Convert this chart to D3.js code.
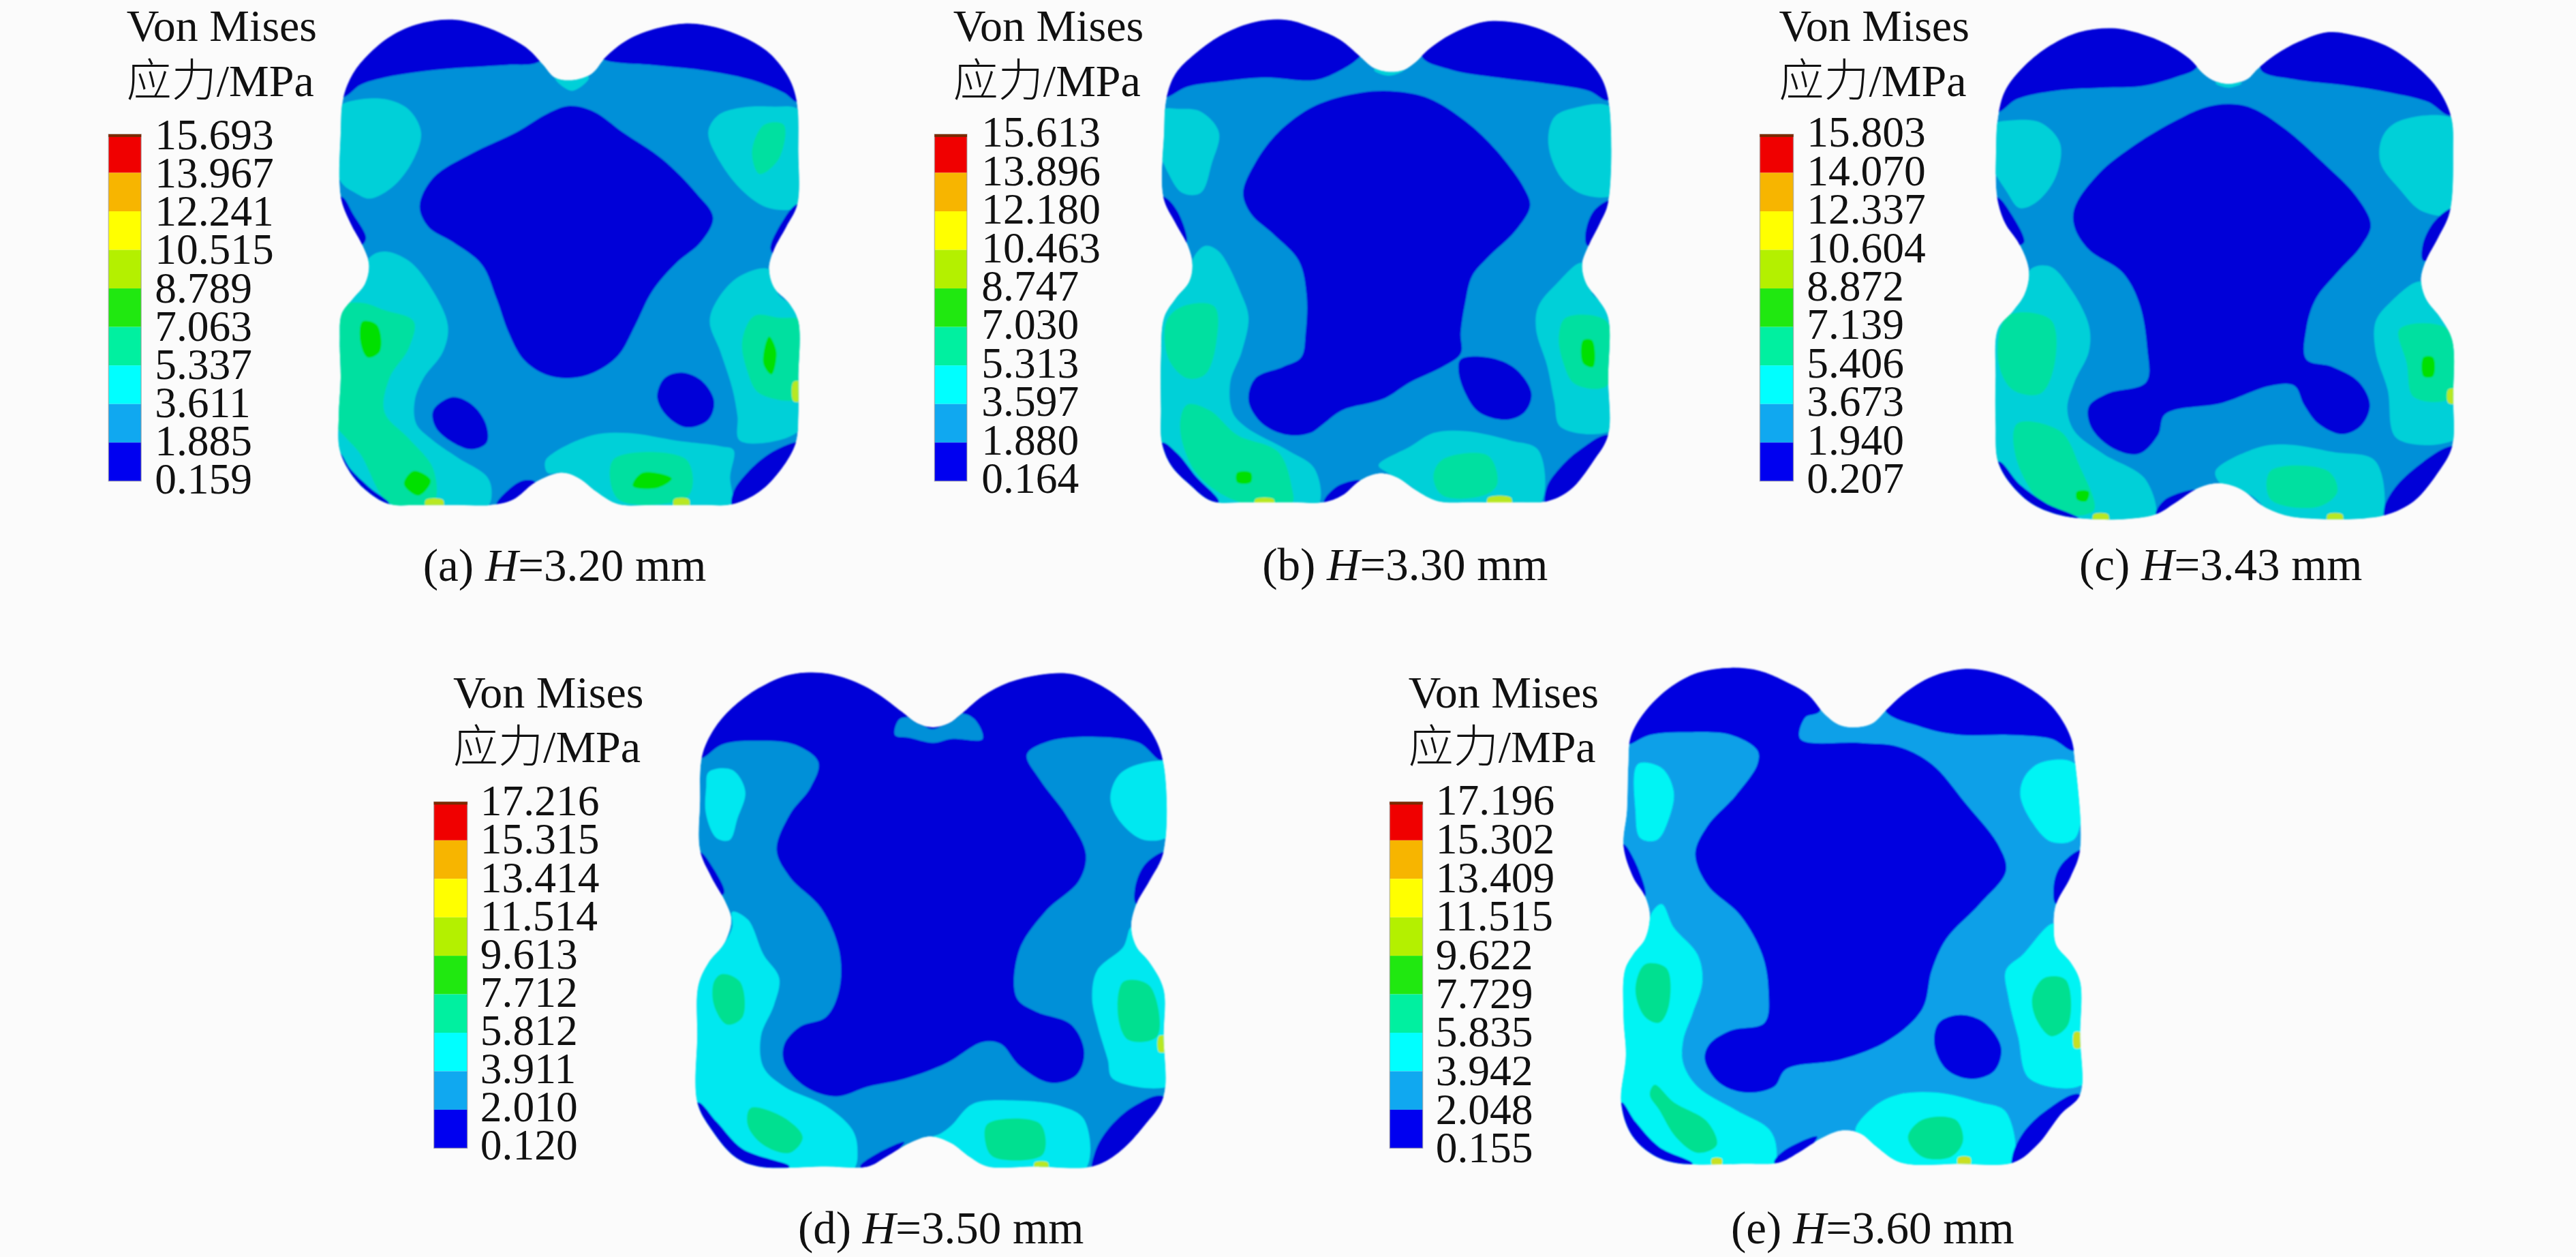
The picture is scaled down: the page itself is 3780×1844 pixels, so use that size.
<!DOCTYPE html>
<html><head><meta charset="utf-8">
<script src="https://cdn.jsdelivr.net/npm/d3@7"></script>
<style>html,body{margin:0;padding:0;background:#fbfbfb;overflow:hidden}svg{display:block}</style>
</head><body>
<script>
// ---- legend values ----
const legendA=["15.693","13.967","12.241","10.515","8.789","7.063","5.337","3.611","1.885","0.159"];
const legendB=["15.613","13.896","12.180","10.463","8.747","7.030","5.313","3.597","1.880","0.164"];
const legendC=["15.803","14.070","12.337","10.604","8.872","7.139","5.406","3.673","1.940","0.207"];
const legendD=["17.216","15.315","13.414","11.514","9.613","7.712","5.812","3.911","2.010","0.120"];
const legendE=["17.196","15.302","13.409","11.515","9.622","7.729","5.835","3.942","2.048","0.155"];
const legendTitle=["Von Mises","应力","/MPa"];
const captions=[["(a) ","=3.20 mm"],["(b) ","=3.30 mm"],["(c) ","=3.43 mm"],["(d) ","=3.50 mm"],["(e) ","=3.60 mm"]];
const bandColors=["#f00000","#f7b500","#ffff00","#b4f000","#20e810","#00f0a0","#00ffff","#10a8f0","#0000f0"];

// ---- contour outlines (model coordinates of each panel, flat x,y lists) ----
const outlineA=[1035,212,1000,205,975,170,945,130,900,95,850,68,790,52,730,60,670,90,620,140,585,195,565,260,560,350,560,520,580,590,605,650,618,700,610,750,585,790,562,830,558,900,560,1000,556,1100,558,1190,585,1260,620,1305,660,1333,720,1335,800,1335,870,1335,915,1320,960,1275,1015,1250,1050,1265,1085,1300,1130,1333,1200,1335,1300,1335,1365,1333,1420,1300,1465,1240,1495,1170,1500,1100,1500,1000,1500,850,1480,800,1450,760,1440,710,1450,660,1475,600,1498,540,1500,400,1497,270,1480,205,1440,140,1390,100,1330,72,1270,62,1210,75,1150,105,1105,150,1075,195];
const blueA=[
[570,255,600,225,650,205,720,190,800,180,900,172,965,165,1000,120,900,20,700,10,520,150,530,270],
[1105,160,1200,172,1300,185,1400,210,1470,245,1500,270,1530,200,1450,60,1270,20,1120,80,1080,140],
[1030,280,1080,295,1140,350,1220,420,1290,510,1325,575,1300,640,1250,695,1200,770,1165,860,1130,940,1080,985,1030,1000,980,990,935,950,905,880,880,790,850,700,790,640,740,600,722,545,750,470,830,405,920,350,985,300],
[790,1050,830,1070,858,1120,860,1170,830,1188,790,1170,755,1130,750,1085],
[1260,985,1300,1005,1327,1060,1315,1110,1270,1130,1230,1100,1210,1050,1225,1000],
[562,520,585,565,612,630,600,650,540,600,540,530],
[1497,540,1470,580,1443,660,1460,680,1520,620,1520,540],
[1497,1168,1440,1200,1395,1250,1367,1300,1365,1340,1450,1350,1530,1250,1520,1170],
[556,1195,580,1240,620,1290,660,1333,620,1345,540,1280,540,1200],
[880,1335,900,1300,935,1270,960,1275,930,1340]];
const cyanA=[
[590,265,650,262,700,290,725,350,710,420,670,490,620,525,590,510,560,480,540,350,560,280],
[1380,285,1450,282,1500,290,1520,400,1500,545,1440,550,1390,510,1340,430,1315,350,1335,305],
[650,665,700,690,745,760,780,860,770,930,730,1000,712,1060,715,1120,745,1160,800,1210,860,1260,870,1300,860,1340,640,1345,540,1240,540,800,600,740,620,680],
[1440,712,1380,730,1335,790,1318,850,1340,930,1365,1030,1375,1100,1380,1165,1500,1140,1520,1000,1510,830,1460,780],
[1000,1195,1080,1150,1150,1145,1250,1165,1340,1180,1367,1190,1360,1260,1360,1345,1130,1345,1085,1300,1050,1265,1015,1250,985,1250,980,1220],
[1000,205,1035,240,1070,205,1035,190]];
const tealA=[
[600,800,650,820,710,850,700,920,660,1000,650,1090,700,1160,750,1240,750,1330,660,1330,600,1200,540,1100,540,820],
[1410,835,1460,840,1510,850,1510,1050,1420,1040,1395,980,1385,900],
[1120,1215,1270,1215,1275,1310,1130,1320],
[1430,330,1470,330,1460,420,1420,460,1405,400]];
const greenA=[[605,850,635,860,640,930,615,945,600,900],[1440,890,1455,930,1445,990,1428,960],[710,1245,745,1270,720,1310,690,1280],[1180,1250,1240,1265,1210,1290,1160,1285]];
const hotA=[[735,1322,770,1322,770,1340,735,1340],[1245,1320,1275,1320,1275,1340,1245,1340],[1490,1010,1505,1010,1505,1060,1490,1060]];

const outlineB=[1012,190,980,180,950,150,905,105,850,75,790,53,720,58,650,90,590,140,545,195,525,260,520,350,518,520,545,590,572,650,582,700,575,745,545,790,520,840,513,950,513,1080,515,1170,535,1230,575,1280,625,1325,700,1328,800,1328,870,1328,910,1310,950,1270,990,1252,1030,1262,1070,1295,1120,1325,1200,1328,1300,1328,1360,1325,1410,1295,1460,1220,1493,1150,1493,1000,1493,840,1470,790,1445,750,1436,700,1450,650,1475,590,1493,535,1493,260,1470,190,1420,130,1360,85,1290,60,1220,58,1150,90,1100,130,1070,165,1045,185];
const blueB=[
[525,258,570,230,650,215,740,205,850,212,900,190,945,155,980,100,800,10,550,100,490,260],
[1085,150,1150,185,1250,205,1350,220,1450,240,1495,265,1530,150,1300,20,1100,80],
[1030,242,1100,260,1180,320,1250,400,1310,500,1322,545,1290,610,1230,680,1195,730,1180,800,1170,880,1170,935,1130,970,1060,1010,1000,1055,910,1085,870,1120,840,1145,790,1150,735,1120,705,1060,720,1000,780,970,820,945,830,880,832,780,815,690,760,620,710,565,693,510,720,430,770,350,850,280,950,245],
[1170,950,1230,945,1290,975,1325,1040,1310,1090,1270,1110,1210,1090,1180,1040,1165,980],
[520,520,550,560,570,640,560,650,500,600,500,520],
[1493,530,1460,560,1443,620,1448,650,1510,620,1510,530],
[1493,1150,1430,1190,1385,1240,1358,1290,1358,1340,1440,1340,1510,1200],
[515,1170,550,1200,590,1260,640,1328,600,1340,500,1250],
[870,1328,900,1285,950,1270,930,1300,900,1340]];
const cyanB=[
[550,288,600,295,640,350,625,430,600,510,560,510,530,460,500,350,520,290],
[1420,285,1500,285,1510,510,1440,515,1390,470,1362,380,1375,310],
[610,650,640,665,690,780,705,840,690,930,665,1010,670,1090,700,1130,790,1190,850,1240,855,1340,620,1340,500,1150,500,830,570,750,585,680],
[1436,695,1380,750,1340,810,1335,870,1360,970,1375,1060,1390,1130,1510,1130,1510,820,1460,780],
[990,1230,1060,1180,1110,1145,1180,1140,1280,1165,1340,1190,1340,1340,1120,1340,1060,1285,1010,1250],
[980,185,1012,200,1045,185,1012,170]];
const tealB=[
[560,810,630,810,635,900,610,990,570,1000,530,950,525,850],
[570,1070,620,1085,680,1150,770,1195,800,1290,800,1330,680,1325,590,1250,555,1130],
[1400,840,1490,850,1490,1020,1420,1015,1395,960,1385,890],
[1130,1215,1230,1205,1250,1280,1220,1310,1130,1310,1110,1260]];
const greenB=[[680,1250,710,1250,710,1275,680,1275],[1438,900,1458,900,1460,970,1438,960]];
const hotB=[[1230,1316,1280,1316,1280,1335,1230,1335],[720,1320,760,1320,760,1335,720,1335]];

const outlineC=[1012,222,985,215,960,195,930,155,880,115,830,90,770,75,700,85,640,120,585,175,545,240,530,310,526,400,528,520,545,590,572,640,590,690,595,730,585,780,560,825,530,870,525,1000,525,1120,530,1220,560,1285,605,1335,660,1362,720,1372,800,1372,860,1360,900,1330,950,1290,995,1278,1040,1295,1080,1335,1130,1362,1200,1372,1300,1370,1345,1360,1400,1325,1450,1250,1480,1180,1482,1050,1480,900,1455,840,1425,790,1415,740,1425,690,1450,630,1475,560,1482,400,1478,310,1450,235,1400,170,1340,120,1280,95,1220,85,1160,110,1110,145,1075,180,1050,210];
const blueC=[
[530,298,570,262,650,240,750,232,830,228,900,205,945,180,960,120,760,30,520,150,490,300],
[1080,185,1150,210,1250,225,1350,245,1430,270,1478,305,1520,200,1220,40,1090,120],
[1010,275,1060,285,1130,340,1210,430,1280,520,1310,595,1290,650,1240,720,1195,790,1175,870,1175,950,1230,970,1285,1010,1308,1070,1290,1125,1250,1148,1200,1120,1170,1070,1150,1020,1100,1020,1000,1065,880,1095,865,1150,825,1200,770,1185,725,1130,720,1075,760,1040,840,1010,842,920,825,800,790,720,720,660,690,600,690,550,740,460,820,380,900,320,960,285],
[528,520,555,560,585,640,570,650,505,600,505,520],
[1478,550,1440,590,1418,650,1420,690,1500,620,1500,550],
[1470,1182,1410,1230,1360,1290,1338,1345,1345,1385,1500,1300,1500,1180],
[530,1220,575,1280,630,1330,700,1372,620,1385,500,1300],
[860,1360,880,1320,945,1295,920,1330,880,1370]];
const cyanC=[
[560,318,620,325,660,380,650,470,610,535,575,550,550,510,505,400,520,330],
[1370,320,1490,320,1500,560,1420,560,1370,500,1330,430,1335,360],
[640,705,680,760,720,860,720,930,690,1010,675,1080,690,1140,750,1200,840,1270,855,1385,620,1385,500,1200,500,860,580,780,600,710],
[1415,745,1350,800,1320,850,1320,930,1345,1030,1365,1160,1500,1150,1500,880,1450,830],
[985,1245,1070,1185,1130,1175,1230,1195,1320,1220,1325,1385,1130,1385,1060,1310,995,1278],
[985,220,1012,232,1040,220,1012,210]];
const tealC=[
[550,835,640,845,650,950,620,1040,560,1030,530,950],
[570,1120,660,1140,700,1230,730,1350,640,1350,570,1220],
[1370,870,1470,870,1480,1050,1400,1050,1385,960],
[1100,1245,1220,1245,1240,1300,1200,1340,1100,1320]];
const greenC=[[1420,945,1440,945,1440,995,1420,995],[695,1300,720,1300,715,1325,695,1320]];
const hotC=[[1220,1360,1250,1360,1250,1380,1220,1380],[730,1360,760,1360,760,1380,730,1380],[1472,1030,1490,1030,1490,1065,1472,1065]];

const outlineD=[1005,205,975,195,945,165,900,120,850,85,790,65,730,70,670,105,620,155,585,210,562,280,558,400,558,520,580,590,605,650,618,700,605,760,575,810,555,870,553,1000,553,1170,580,1240,625,1310,670,1335,800,1335,880,1335,915,1310,960,1275,1000,1258,1040,1275,1075,1310,1110,1335,1200,1335,1310,1335,1360,1300,1410,1230,1447,1155,1447,1000,1447,880,1420,810,1395,770,1385,720,1395,660,1420,600,1447,525,1447,300,1425,220,1380,150,1330,100,1270,68,1210,70,1150,90,1100,125,1060,170,1035,195];
const blueD=[
[562,285,600,250,660,240,740,250,785,295,770,360,730,430,705,520,730,590,790,670,825,780,825,880,800,950,750,975,720,1020,720,1070,760,1130,820,1155,880,1130,950,1110,1030,1070,1100,1015,1135,1020,1170,1075,1230,1120,1280,1100,1295,1040,1270,970,1200,935,1165,900,1170,780,1220,680,1285,600,1298,530,1260,430,1210,340,1185,275,1230,240,1320,230,1400,245,1445,290,1480,200,1300,30,1000,100,700,30,530,200,530,290],
[558,525,580,560,605,630,595,640,535,600,535,525],
[1447,525,1410,560,1392,620,1395,660,1470,600,1470,525],
[1447,1155,1390,1180,1340,1240,1315,1300,1312,1350,1470,1300],
[553,1170,590,1220,640,1290,730,1335,650,1350,530,1250],
[865,1335,900,1300,950,1272,925,1310,885,1345]];
const bandOverD=[[940,185,960,180,1005,210,1060,170,1085,185,1100,235,1040,235,1005,245,960,232,932,225]];
const cyanD=[
[575,320,620,315,645,370,630,440,615,495,590,490,570,430,570,360],
[1400,300,1460,300,1460,480,1410,495,1365,450,1345,390,1360,330],
[620,680,650,700,680,790,710,850,700,920,675,1000,680,1080,720,1130,800,1180,850,1240,860,1290,850,1345,640,1345,530,1160,530,870,600,770,620,720],
[1385,720,1370,770,1320,830,1310,900,1320,970,1340,1060,1350,1110,1470,1120,1470,880,1420,810],
[1040,1230,1080,1175,1150,1165,1250,1180,1295,1215,1295,1345,1100,1345,1050,1290,1000,1262,1020,1250]];
const tealD=[
[600,840,635,860,640,950,610,970,585,920,585,860],
[1370,860,1420,870,1435,1000,1380,1010,1360,950],
[655,1185,720,1210,755,1260,730,1300,680,1280,650,1230],
[1110,1225,1210,1225,1215,1305,1120,1310,1105,1270]];
const greenD=[];
const hotD=[[1200,1325,1225,1325,1225,1340,1200,1340],[1438,1000,1450,1000,1450,1040,1438,1040]];

const outlineE=[1025,205,995,198,965,170,930,120,880,85,830,60,770,52,700,65,640,105,590,165,560,230,555,300,552,420,545,510,565,590,590,640,600,690,590,750,565,790,548,830,545,950,550,1050,540,1170,560,1250,600,1300,650,1325,800,1328,870,1325,910,1300,960,1262,1000,1243,1040,1250,1075,1285,1125,1325,1250,1328,1360,1325,1410,1280,1460,1200,1500,1150,1500,1000,1500,860,1480,810,1450,765,1445,710,1450,660,1480,590,1500,520,1490,300,1480,230,1440,150,1380,95,1320,65,1260,55,1190,75,1130,120,1095,160,1065,195];
const blueE=[
[555,250,600,225,680,218,770,225,825,265,825,300,780,380,720,460,695,530,720,610,790,690,835,790,848,880,840,965,770,985,725,1020,715,1060,745,1120,800,1145,860,1130,885,1085,1000,1060,1100,1010,1170,930,1190,830,1220,750,1290,660,1345,575,1330,510,1260,400,1190,300,1120,255,1040,245,915,235,925,180,955,165,960,100,770,20,530,150,530,250],
[1092,162,1170,205,1250,225,1350,225,1440,235,1490,265,1530,150,1260,20,1100,100],
[1250,945,1300,965,1335,1030,1320,1090,1270,1110,1220,1085,1195,1020,1205,965],
[545,505,565,540,590,620,590,640,525,600,525,505],
[1500,520,1460,560,1445,610,1450,660,1520,600,1520,520],
[1500,1150,1430,1190,1380,1250,1358,1310,1360,1340,1520,1300],
[540,1170,570,1220,620,1285,690,1328,620,1340,520,1280],
[860,1325,880,1295,950,1258,925,1300,880,1335]];
const cyanE=[
[575,300,625,310,650,370,640,440,615,495,580,490,570,420],
[1420,295,1490,300,1490,490,1440,500,1400,450,1375,380,1385,330],
[625,660,650,720,700,790,710,860,690,940,670,1010,670,1070,700,1130,780,1190,850,1240,865,1290,855,1340,640,1340,520,1180,520,820,590,740,605,680],
[1445,710,1380,790,1345,830,1350,900,1370,1000,1395,1110,1510,1120,1510,840,1470,790],
[1070,1180,1120,1150,1200,1145,1290,1170,1345,1195,1355,1340,1125,1340,1075,1285,1030,1245]];
const tealE=[
[590,815,635,825,640,920,620,965,590,950,570,880],
[1425,850,1470,855,1475,970,1440,1000,1410,960,1400,900],
[610,1125,650,1170,720,1220,740,1280,700,1300,655,1260,620,1190,600,1150],
[1170,1215,1240,1215,1255,1270,1230,1310,1170,1310,1140,1260]];
const greenE=[];
const hotE=[[730,1315,750,1315,750,1330,730,1330],[1245,1312,1270,1312,1270,1330,1245,1330],[1488,990,1500,990,1500,1030,1488,1030]];

// ---- layout (panel placement and styling, separate from the data) ----
const palettes={
  dark:{blue:"#0000d8",band:"#0090d8",cyan:"#00d0d8",teal:"#00e0a0",green:"#00e000",hot:"#b8e820"},
  light:{blue:"#0000d8",band:"#0090d8",cyan:"#00e8f0",teal:"#00e090",green:"#00e000",hot:"#b8e820"},
  bright:{blue:"#0000e0",band:"#08a0e8",cyan:"#00f4f4",teal:"#00e090",green:"#00e000",hot:"#c8e020"}};
const panels=[
 {ox:100,oy:0,cw:1120,ch:870,pal:"dark",legend:legendA,outline:outlineA,blue:blueA,over:[],cyan:cyanA,teal:tealA,green:greenA,hot:hotA,
  bar:[83,150,355,1272],lx:178,ly:[395,1305],tx:120,t1:108,t2:255,cx:1020,cy:1535,cap:captions[0]},
 {ox:1360,oy:0,cw:1050,ch:870,pal:"dark",legend:legendB,outline:outlineB,blue:blueB,over:[],cyan:cyanB,teal:tealB,green:greenB,hot:hotB,
  bar:[17,88,355,1272],lx:120,ly:[388,1303],tx:58,t1:108,t2:255,cx:1048,cy:1533,cap:captions[1]},
 {ox:2560,oy:0,cw:1100,ch:870,pal:"dark",legend:legendC,outline:outlineC,blue:blueC,over:[],cyan:cyanC,teal:tealC,green:greenC,hot:hotC,
  bar:[32,102,355,1272],lx:130,ly:[388,1303],tx:72,t1:108,t2:255,cx:996,cy:1533,cap:captions[2]},
 {ox:600,oy:950,cw:1200,ch:894,pal:"light",legend:legendD,outline:outlineD,blue:blueD,over:bandOverD,cyan:cyanD,teal:tealD,green:greenD,hot:hotD,
  bar:[48,112,397,1288],lx:137,ly:[432,1318],tx:85,t1:155,t2:295,cx:1020,cy:1533,cap:captions[3]},
 {ox:2000,oy:950,cw:1100,ch:894,pal:"bright",legend:legendE,outline:outlineE,blue:blueE,over:[],cyan:cyanE,teal:tealE,green:greenE,hot:hotE,
  bar:[56,125,397,1288],lx:152,ly:[430,1325],tx:95,t1:155,t2:295,cx:1066,cy:1533,cap:captions[4]}];

const FONT=63.5, TITLEFONT=66, CAPFONT=67;
const serif="'Liberation Serif','Times New Roman',serif";
const svg=d3.select("body").append("svg").attr("width",3780).attr("height",1844);
svg.append("rect").attr("width",3780).attr("height",1844).attr("fill","#fbfbfb");
const defs=svg.append("defs");
defs.append("filter").attr("id","soft").attr("x","-2%").attr("y","-2%").attr("width","104%").attr("height","104%")
  .append("feGaussianBlur").attr("stdDeviation",1.3);

const toPts=a=>d3.range(0,a.length,2).map(i=>[a[i],a[i+1]]);

panels.forEach((p,pi)=>{
  const x=d3.scaleLinear().domain([0,1568]).range([p.ox,p.ox+p.cw]);
  const y=d3.scaleLinear().domain([0,1568]).range([p.oy,p.oy+p.ch]);
  const line=d3.line().x(d=>x(d[0])).y(d=>y(d[1])).curve(d3.curveCatmullRomClosed.alpha(0.5));
  const pal=palettes[p.pal];
  const clipId="clip"+pi;
  defs.append("clipPath").attr("id",clipId).append("path").attr("d",line(toPts(p.outline)));
  const g=svg.append("g").attr("class","panel");
  const field=g.append("g").attr("filter","url(#soft)").append("g").attr("clip-path",`url(#${clipId})`);
  field.append("path").attr("d",line(toPts(p.outline))).attr("fill",pal.band);
  const layer=(list,col)=>field.append("g").selectAll("path").data(list).join("path")
     .attr("d",d=>line(toPts(d))).attr("fill",col);
  layer(p.cyan,pal.cyan); layer(p.teal,pal.teal); layer(p.green,pal.green); layer(p.hot,pal.hot);
  layer(p.blue,pal.blue); layer(p.over,pal.band);

  // legend bar
  const yBand=d3.scalePoint().domain(p.legend).range([y(p.bar[2]),y(p.bar[3])]);
  const yLab=d3.scalePoint().domain(p.legend).range([y(p.ly[0]),y(p.ly[1])]);
  const bars=g.append("g");
  bars.selectAll("rect").data(d3.pairs(p.legend)).join("rect")
    .attr("x",x(p.bar[0])).attr("width",x(p.bar[1])-x(p.bar[0]))
    .attr("y",d=>yBand(d[0])).attr("height",d=>yBand(d[1])-yBand(d[0]))
    .attr("fill",(d,i)=>bandColors[i]);
  bars.append("rect").attr("x",x(p.bar[0])).attr("width",x(p.bar[1])-x(p.bar[0]))
    .attr("y",y(p.bar[2])).attr("height",y(p.bar[3])-y(p.bar[2]))
    .attr("fill","none").attr("stroke","#999").attr("stroke-width",1.5).attr("stroke-opacity",.6);
  bars.append("rect").attr("x",x(p.bar[0])).attr("width",x(p.bar[1])-x(p.bar[0]))
    .attr("y",y(p.bar[2])).attr("height",4).attr("fill","#7a2a00");

  // legend labels
  g.append("g").selectAll("text").data(p.legend).join("text")
    .attr("x",x(p.lx)).attr("y",d=>yLab(d))
    .attr("font-family",serif).attr("font-size",FONT).attr("fill","#111").text(d=>d);

  // legend title
  g.append("text").attr("x",x(p.tx)).attr("y",y(p.t1))
    .attr("font-family",serif).attr("font-size",TITLEFONT).attr("fill","#111").text(legendTitle[0]);
  const t2=g.append("text").attr("x",x(p.tx)).attr("y",y(p.t2))
    .attr("font-size",TITLEFONT).attr("fill","#111");
  t2.append("tspan").attr("font-family","'Noto Sans CJK SC'").attr("font-weight",300).text(legendTitle[1]);
  t2.append("tspan").attr("font-family",serif).text(legendTitle[2]);

  // caption
  const c=g.append("text").attr("x",x(p.cx)).attr("y",y(p.cy))
    .attr("text-anchor","middle").attr("font-family",serif).attr("font-size",CAPFONT).attr("fill","#111");
  c.append("tspan").text(p.cap[0]);
  c.append("tspan").attr("font-style","italic").text("H");
  c.append("tspan").text(p.cap[1]);
});
</script>
</body></html>
